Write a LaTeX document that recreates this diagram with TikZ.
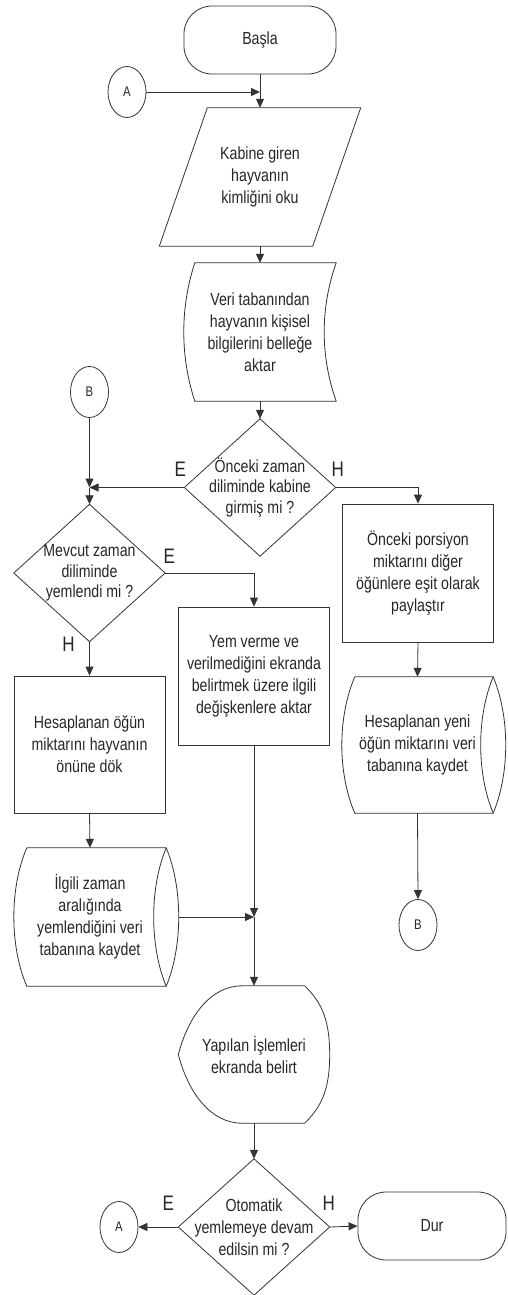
\documentclass[tikz,border=0pt]{standalone}
\usepackage{fontspec}
\setmainfont{Liberation Sans}[FakeStretch=0.81]
\usetikzlibrary{arrows.meta,positioning,calc,shapes.geometric}
\tikzset{
  ok/.style={-{Triangle[length=9pt,width=8pt]}},
  cizgi/.style={draw=black!80,line width=0.8pt},
  bos/.style={minimum width=151pt,minimum height=138pt,inner sep=0pt,align=center},
  kutu/.style={bos,cizgi},
  karar/.style={bos,minimum height=137pt,font=\fontsize{17.5}{20.5}\selectfont},
  uc/.style={cizgi,rounded corners=28pt,minimum width=152pt,minimum height=68pt,inner sep=0pt},
  bag/.style={cizgi,ellipse,minimum width=38pt,minimum height=51pt,inner sep=0pt,font=\fontsize{14}{16}\selectfont},
  eh/.style={font=\fontsize{21}{24}\selectfont},
}

\begin{document}
\begin{tikzpicture}[x=1pt,y=-1pt,font=\fontsize{17.5}{22}\selectfont,text=black!85]
  \useasboundingbox (0,0) rectangle (507,1295);
  % ust kisim
  \node[uc] (basla) at (260,40) {Başla};
  \node[bag] (a1) at (127,92) {A};
  \node[bos,minimum width=153pt] (kimlik) at (260,177) {Kabine giren\\hayvanın\\kimliğini oku};
  \draw[cizgi] ($(kimlik.north west)+(24,0)$) -- ($(kimlik.north east)+(24,0)$) -- ($(kimlik.south east)+(-24,0)$) -- ($(kimlik.south west)+(-24,0)$) -- cycle;
  \node[bos,minimum width=152pt] (aktar) at (260,332) {Veri tabanından\\hayvanın kişisel\\bilgilerini belleğe\\aktar};
  \draw[cizgi] ($(aktar.north west)+(11,0)$) -- (aktar.north east) .. controls +(-16,45) and +(-16,-45) .. (aktar.south east) -- ($(aktar.south west)+(11,0)$) .. controls +(-14.7,-45) and +(-14.7,45) .. ($(aktar.north west)+(11,0)$);
  \node[karar] (k1) at (260,487.5) {Önceki zaman\\diliminde kabine\\girmiş mi ?};
  \draw[cizgi] (k1.north) -- (k1.east) -- (k1.south) -- (k1.west) -- cycle;
  \node[eh] (e1) at ($(k1.west)+(-4,-18)$) {E};
  \node[eh] (h1) at ($(k1.east)+(2,-18)$) {H};
  % sol kol
  \node[bag] (b1) at (89.5,392) {B};
  \node[karar] (k2) at (89.5,573) {Mevcut zaman\\diliminde\\yemlendi mi ?};
  \draw[cizgi] (k2.north) -- (k2.east) -- (k2.south) -- (k2.west) -- cycle;
  \node[eh] (e2) at ($(k2.east)+(4,-17)$) {E};
  \node[eh] (h2) at ($(k2.south)+(-21,3)$) {H};
  \node[kutu,minimum height=137pt] (dok) at (89.5,744.5) {Hesaplanan öğün\\miktarını hayvanın\\önüne dök};
  \node[bos,minimum width=152pt] (kay1) at (90,917) {İlgili zaman\\aralığında\\yemlendiğini veri\\tabanına kaydet};
  \draw[cizgi] ($(kay1.north west)+(13,0)$) -- (kay1.north east) .. controls +(16.7,40) and +(16.7,-40) .. (kay1.south east) -- ($(kay1.south west)+(13,0)$) .. controls +(-17.3,-40) and +(-17.3,40) .. ($(kay1.north west)+(13,0)$);
  \draw[cizgi] (kay1.north east) .. controls +(-16.7,40) and +(-16.7,-40) .. (kay1.south east);
  \coordinate (kay1sag) at ($(kay1.east)+(12.5,0)$);
  % orta kol
  \node[kutu] (yemver) at (254,676) {Yem verme ve\\verilmediğini ekranda\\belirtmek üzere ilgili\\değişkenlere aktar};
  \node[bos,minimum height=137pt] (ekran) at (254,1054.5) {Yapılan İşlemleri\\ekranda belirt};
  \draw[cizgi] ($(ekran.north west)+(64,0)$) -- ($(ekran.north east)+(-25,0)$) .. controls +(15,15) and +(0,-38) .. (ekran.east) .. controls +(0,38) and +(15,-15) .. ($(ekran.south east)+(-25,0)$) -- ($(ekran.south west)+(64,0)$) .. controls +(-32,0) and +(10,38) .. (ekran.west) .. controls +(10,-38) and +(-32,0) .. ($(ekran.north west)+(64,0)$);
  % sag kol
  \node[kutu] (pors) at (418,573) {Önceki porsiyon\\miktarını diğer\\öğünlere eşit olarak\\paylaştır};
  \node[bos,minimum width=151pt,minimum height=136pt] (kay2) at (417.5,745) {Hesaplanan yeni\\öğün miktarını veri\\tabanına kaydet};
  \draw[cizgi] ($(kay2.north west)+(13,0)$) -- (kay2.north east) .. controls +(16.7,40) and +(16.7,-40) .. (kay2.south east) -- ($(kay2.south west)+(13,0)$) .. controls +(-17.3,-40) and +(-17.3,40) .. ($(kay2.north west)+(13,0)$);
  \draw[cizgi] (kay2.north east) .. controls +(-16.7,40) and +(-16.7,-40) .. (kay2.south east);
  \node[bag] (b2) at (418,925) {B};
  % alt kisim
  \node[bos,minimum height=136pt] (k3) at (254,1227) {Otomatik\\yemlemeye devam\\edilsin mi ?};
  \draw[cizgi] (k3.north) -- (k3.east) -- (k3.south) -- (k3.west) -- cycle;
  \node[eh] (e3) at ($(k3.west)+(-10,-24)$) {E};
  \node[eh] (h3) at ($(k3.east)+(-1,-24)$) {H};
  \node[bag] (a2) at (119,1227) {A};
  \node[uc,minimum width=148pt] (dur) at (432,1226) {Dur};
  % baglantilar
  \draw[cizgi,ok] (basla.south) -- (kimlik.north);
  \draw[cizgi,ok] (a1.east) -- (a1 -| basla.south);
  \draw[cizgi,ok] (kimlik.south) -- (aktar.north);
  \draw[cizgi,ok] (aktar.south) -- (k1.north);
  \coordinate (kavs1) at (b1 |- k1.west);
  \draw[cizgi,ok] (k1.west) -- (kavs1);
  \draw[cizgi,ok] (b1.south) -- (kavs1);
  \draw[cizgi,ok] (kavs1) -- (k2.north);
  \draw[cizgi,ok] (k1.east) -| (pors.north);
  \draw[cizgi,ok] (k2.east) -| (yemver.north);
  \draw[cizgi,ok] (k2.south) -- (dok.north);
  \draw[cizgi,ok] (dok.south) -- (kay1.north);
  \draw[cizgi,ok] (pors.south) -- (kay2.north);
  \draw[cizgi,ok] (kay2.south) -- (b2.north);
  \coordinate (kavs2) at (yemver.south |- kay1.east);
  \draw[cizgi,ok] (yemver.south) -- (kavs2);
  \draw[cizgi,ok] (kay1sag) -- (kavs2);
  \draw[cizgi,ok] (kavs2) -- (ekran.north);
  \draw[cizgi,ok] (ekran.south) -- (k3.north);
  \draw[cizgi,ok] (k3.west) -- (a2.east);
  \draw[cizgi,ok] (k3.east) -- (dur.west);
\end{tikzpicture}
\end{document}
